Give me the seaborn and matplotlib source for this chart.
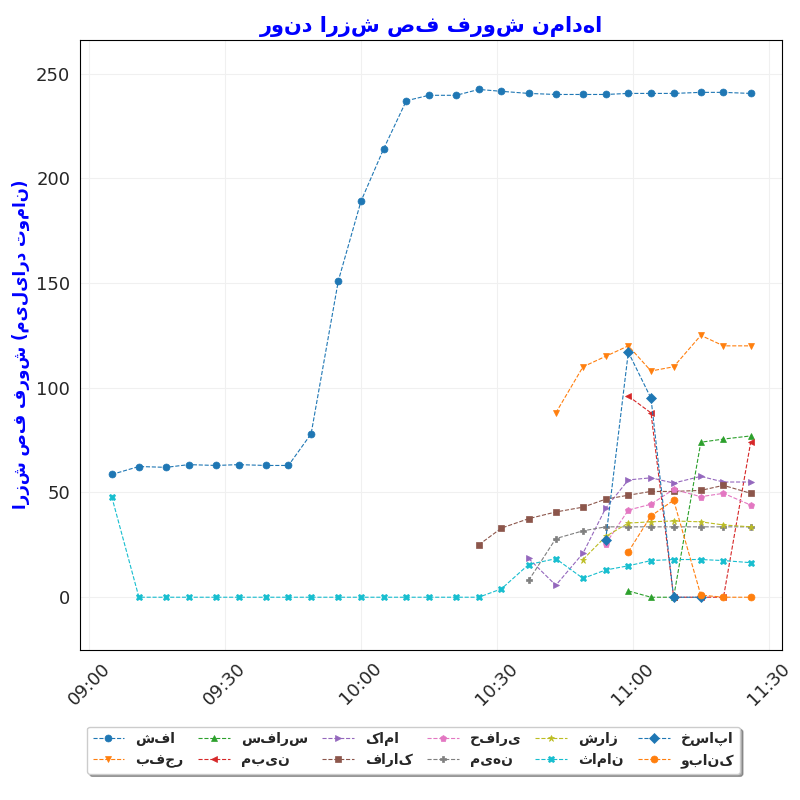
import numpy as np
import pandas as pd
import seaborn as sns
import matplotlib.pyplot as plt
import matplotlib.dates as mdates

times = ["09:05", "09:11", "09:17", "09:22", "09:28", "09:33", "09:39", "09:44", "09:49",
         "09:55", "10:00", "10:05", "10:10", "10:15", "10:21", "10:26", "10:31", "10:37",
         "10:43", "10:49", "10:54", "10:59", "11:04", "11:09", "11:15", "11:20", "11:26"]

N = np.nan
shefa = [58.6, 62.4, 62, 63.3, 62.9, 63.3, 62.9, 62.9, 78, 151, 189, 214, 237, 239.6, 239.6,
         242.4, 241.5, 240.5, 240, 240, 240, 240.5, 240.5, 240.5, 241, 241, 240.5]
bafajr = [N]*18 + [88, 110, 115, 120, 108, 110, 125, 120, 120]
sefars = [N]*21 + [3, 0, 0, 74, 75.5, 77]
mobin = [N]*21 + [96, 88, 0, 0, 0, 74]
kama = [N]*17 + [18.5, 5.7, 21, 42.5, 56, 57, 54.5, 57.7, 55, 55]
farak = [N]*15 + [25, 33, 37.5, 40.7, 43, 46.8, 48.7, 50.5, 50.5, 51, 53.4, 49.6]
hafari = [N]*20 + [25.5, 41.6, 44.4, 51.5, 48, 49.6, 44]
mihan = [N]*17 + [8, 28, 31.7, 33.6, 33.6, 33.6, 33.6, 33.6, 33.6, 33.6]
shraz = [N]*19 + [18, 29, 35.4, 36, 36.4, 36, 34.5, 33.6]
saman = [48] + [0]*15 + [4, 15.6, 18.4, 9, 13, 15, 17.5, 18, 18, 17.5, 16.5]
khsapa = [N]*20 + [27.4, 117, 95, 0, 0, N, N]
vbank = [N]*21 + [21.7, 38.8, 46.3, 1, 0, 0]

names = ["شفا", "بفجر", "سفارس", "مبین", "کاما", "فاراک",
         "حفاری", "میهن", "شراز", "ثامان", "خساپا", "وبانک"]
series = [shefa, bafajr, sefars, mobin, kama, farak, hafari, mihan, shraz, saman, khsapa, vbank]
markers = ["o", "v", "^", "<", ">", "s", "p", "P", "*", "X", "D", "o"]
pal = sns.color_palette("tab10")
colors = pal + pal[:2]

t = pd.to_datetime(["2024-01-01 " + s for s in times])
df = pd.DataFrame({"time": t})
for n, s in zip(names, series):
    df[n] = s

sns.set_style("whitegrid", {"grid.color": "#f0f0f0"})
plt.rcParams['font.family'] = ['DejaVu Sans']
fig, ax = plt.subplots(figsize=(8, 8), dpi=100)
for n, m, c in zip(names, markers, colors):
    sns.lineplot(data=df, x="time", y=n, ax=ax, marker=m, color=c, label=n,
                 linewidth=0.8, linestyle="--", markersize=5, markeredgewidth=0.5,
                 markeredgecolor=c)

ax.set_xlim(pd.Timestamp("2024-01-01 08:58"), pd.Timestamp("2024-01-01 11:33"))
ax.set_ylim(-25, 266)
ax.xaxis.set_major_locator(mdates.MinuteLocator(byminute=[0, 30]))
ax.xaxis.set_major_formatter(mdates.DateFormatter("%H:%M"))
ax.tick_params(axis="x", rotation=45, labelsize=13)
ax.tick_params(axis="y", labelsize=13)
ax.set_xlabel("")
ax.set_ylabel("ارزش صف فروش (میلیارد تومان)", color="blue", fontsize=12, fontweight="bold")
ax.set_title("روند ارزش صف فروش نمادها", color="blue", fontsize=15, fontweight="bold")
for sp in ax.spines.values():
    sp.set_color("black")
    sp.set_linewidth(0.8)

ax.legend(loc="upper left", bbox_to_anchor=(0.0, -0.115), ncol=6, frameon=True,
          shadow=True, prop={"weight": "bold", "size": 10}, columnspacing=1.0,
          handlelength=2.3)
fig.subplots_adjust(left=0.1, right=0.978, top=0.95, bottom=0.188)
fig.savefig("out.png")
